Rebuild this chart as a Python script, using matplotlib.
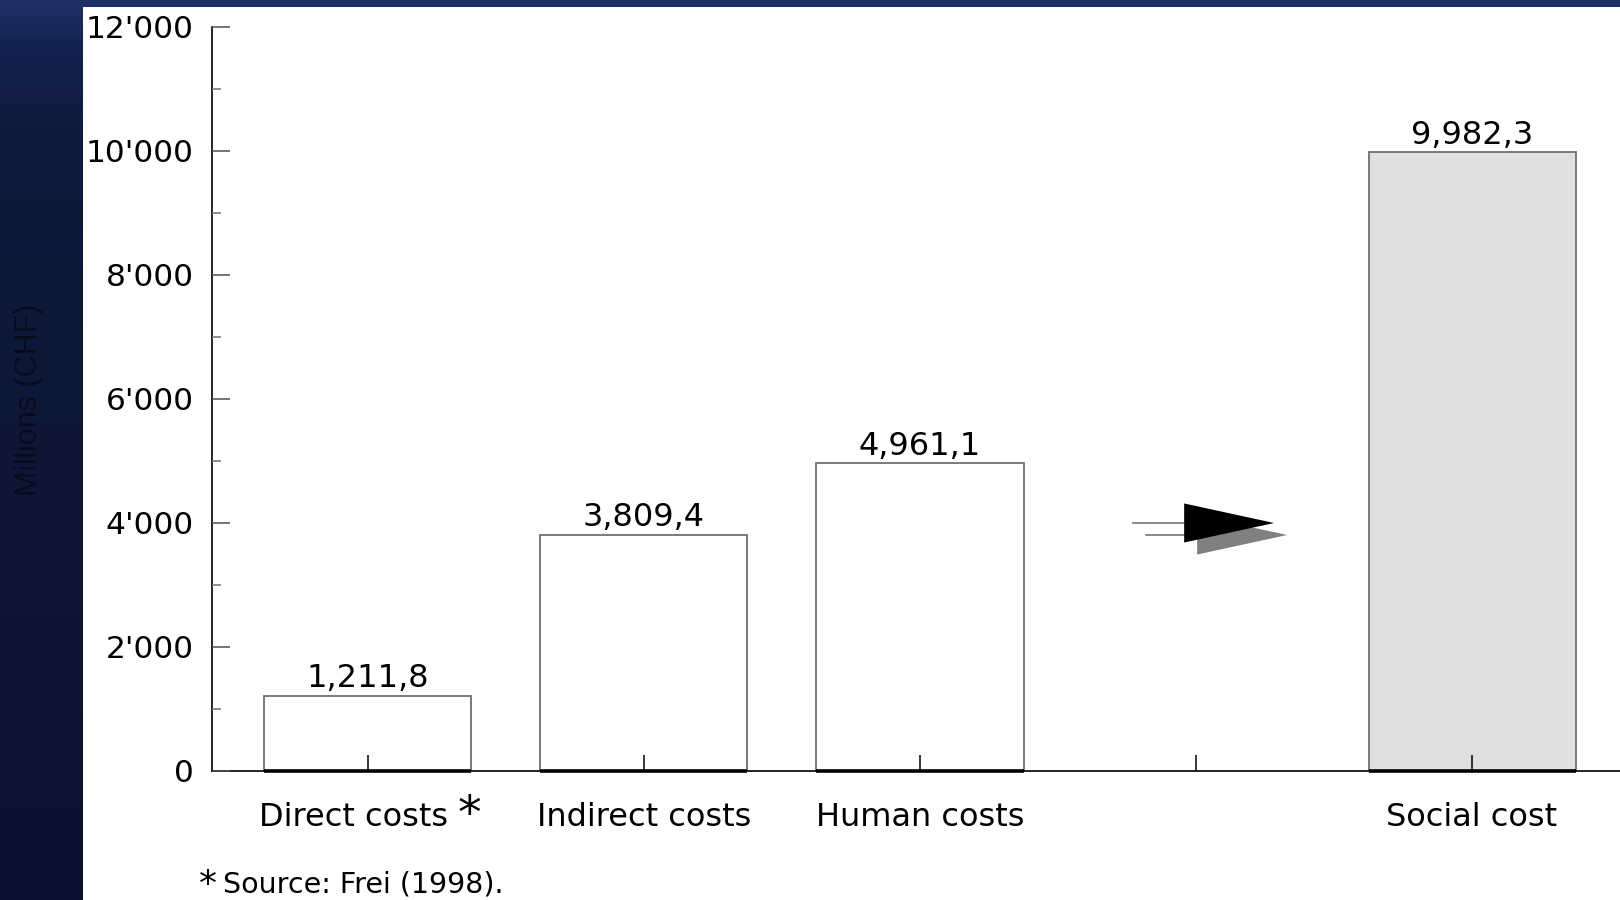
import matplotlib
matplotlib.use("Agg")
import matplotlib.pyplot as plt
import numpy as np
from matplotlib.patches import Polygon, Rectangle
from matplotlib.transforms import ScaledTranslation
from matplotlib.ticker import FixedLocator, MultipleLocator

plt.rcParams["font.family"] = ["DejaVu Sans"]

# data
categories = ["Direct costs", "Indirect costs", "Human costs", "Social cost"]
values = [1211.8, 3809.4, 4961.1, 9982.3]
is_total = [False, False, False, True]
y_ticks = [0, 2000, 4000, 6000, 8000, 10000, 12000]
arrow_level = 4000
footnote = "Source: Frei (1998)."
y_label = "Millions (CHF)"

W, H = 1620, 900
fig = plt.figure(figsize=(W / 100, H / 100), dpi=100)

# dark slide background with a white panel
bg = fig.add_axes([0, 0, 1, 1], zorder=-1)
grad = np.linspace(0, 1, 256).reshape(-1, 1)
bg.imshow(grad, extent=(0, W, H, 0), aspect="auto",
          cmap=matplotlib.colors.LinearSegmentedColormap.from_list(
              "slide", [(0, "#1d3066"), (0.05, "#142250"), (0.15, "#0f1a3c"),
                        (1, "#0b1230")]))
bg.add_patch(Rectangle((83, 7), W - 83, H - 7, facecolor="white", edgecolor="none"))
bg.set_xlim(0, W)
bg.set_ylim(H, 0)
bg.axis("off")

ax = fig.add_axes([212 / W, 1 - 771 / H, 1 - 212 / W, (771 - 27) / H], zorder=1)
ax.set_facecolor("none")
ax.set_axisbelow(False)

# leave an empty slot before the total for the arrow
x_pos = []
slot = 0
for total in is_total:
    if total:
        arrow_x = slot
        slot += 1
    x_pos.append(slot)
    slot += 1

bar_w = 0.75
colors = ["#e0e0e0" if t else "white" for t in is_total]
ax.bar(x_pos, values, width=bar_w, color=colors, edgecolor="#707070", linewidth=1.3, zorder=2)
ax.hlines([0] * len(x_pos), [x - bar_w / 2 for x in x_pos], [x + bar_w / 2 for x in x_pos],
          color="black", linewidth=2.6, zorder=3, clip_on=False)

for x, v in zip(x_pos, values):
    txt = f"{v:,.1f}".replace(".", ",")
    ax.annotate(txt, (x, v), xytext=(0, 1), textcoords="offset points",
                ha="center", va="bottom", fontsize=23)

# arrow pointing to the total
tri = [(arrow_x - 0.043, arrow_level - 315), (arrow_x - 0.043, arrow_level + 315),
       (arrow_x + 0.283, arrow_level)]
shadow = ax.transData + ScaledTranslation(13 / 100, -12 / 100, fig.dpi_scale_trans)
for trans, col, z in [(shadow, "#808080", 3), (ax.transData, "black", 4)]:
    ax.plot([arrow_x - 0.228, arrow_x - 0.043], [arrow_level, arrow_level],
            color="#808080", linewidth=1.3, transform=trans, zorder=z)
    ax.add_patch(Polygon(tri, closed=True, facecolor=col, edgecolor="none",
                         transform=trans, zorder=z))

ax.set_xlim(-0.565, 4.536)
ax.set_ylim(0, 12000)
ax.spines["top"].set_visible(False)
ax.spines["right"].set_visible(False)
ax.spines["left"].set_linewidth(1.2)
ax.spines["bottom"].set_linewidth(1.2)

ax.yaxis.set_major_locator(FixedLocator(y_ticks))
ax.set_yticklabels([f"{t:,}".replace(",", "'") for t in y_ticks], fontsize=22.5)
ax.yaxis.set_minor_locator(MultipleLocator(1000))
ax.tick_params(axis="y", which="major", direction="in", length=13, width=1.1,
               color="#505050", pad=13)
ax.tick_params(axis="y", which="minor", direction="in", length=6.5, width=1.1, color="#707070")

ticks = list(range(slot))
labels = [""] * slot
for x, c in zip(x_pos, categories):
    labels[x] = c
ax.set_xticks(ticks)
ax.set_xticklabels(labels, fontsize=23)
ax.tick_params(axis="x", direction="in", length=11.5, width=1.1, color="black", pad=22)

# the first category carries the footnote mark
first = ax.get_xticklabels()[0]
first.set_transform(first.get_transform() + ScaledTranslation(-14 / 100, 0, fig.dpi_scale_trans))
ax.annotate("*", xy=(x_pos[0], 0), xycoords=("data", "axes fraction"),
            xytext=(101 / 100 * 72, -22 / 100 * 72), textcoords="offset points",
            ha="center", va="top", fontsize=34)

fig.text(199 / W, 1 - 868 / H, "*", fontsize=26, ha="left", va="top")
fig.text(223 / W, 1 - 892 / H, footnote, fontsize=20.5, ha="left", va="baseline")

fig.text(29 / W, 1 - 400 / H, y_label, rotation=90, ha="center", va="center",
         fontsize=22, color="#070b1c", family=["Liberation Sans", "DejaVu Sans"])

fig.savefig("out.png", dpi=100)
plt.close(fig)
